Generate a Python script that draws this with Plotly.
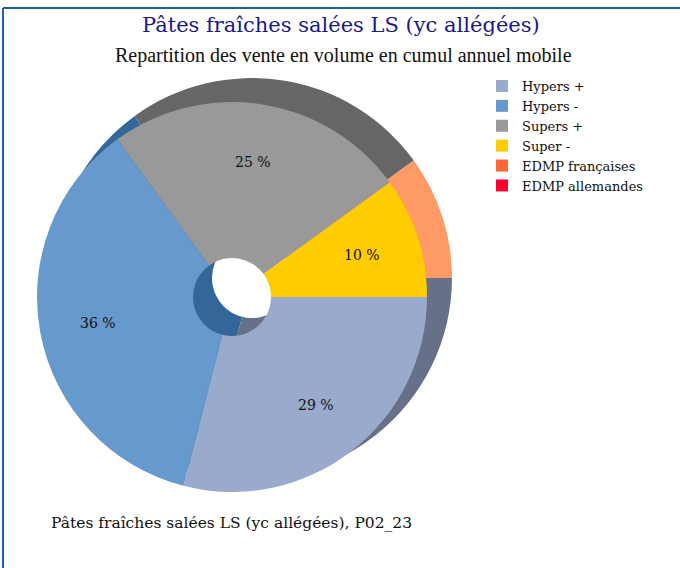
import math
import plotly.graph_objects as go

W, H = 680, 568

labels = ["Hypers +", "Hypers -", "Supers +", "Super -", "EDMP françaises", "EDMP allemandes"]
values = [29, 36, 25, 10, 0, 0]
colors = ["#99AACC", "#6699CC", "#999999", "#FFCC00", "#FF6633", "#FF0033"]
dark_colors = ["#667088", "#336699", "#666666", "#FF9966", "#CC5533", "#CC0022"]

title_text = "Pâtes fraîches salées LS (yc allégées)"
subtitle_text = "Repartition des vente en volume en cumul annuel mobile"
footer_text = "Pâtes fraîches salées LS (yc allégées), P02_23"

# front pie geometry (pixels)
FCX, FCY, FR = 232, 297, 195
BCX, BCY, BR = 252, 278, 200


def dom(cx, cy, r):
    return dict(x=[(cx - r) / W, (cx + r) / W], y=[1 - (cy + r) / H, 1 - (cy - r) / H])


fig = go.Figure()

# back (extrusion) layer
fig.add_trace(go.Pie(
    labels=labels, values=values, sort=False, direction="clockwise", rotation=90,
    hole=0.2, domain=dom(BCX, BCY, BR),
    marker=dict(colors=dark_colors, line=dict(width=0)),
    textinfo="none", hoverinfo="skip", showlegend=False,
))

# front layer
fig.add_trace(go.Pie(
    labels=labels, values=values, sort=False, direction="clockwise", rotation=90,
    hole=0.2, domain=dom(FCX, FCY, FR),
    marker=dict(colors=colors, line=dict(width=0)),
    textinfo="none",
    hoverinfo="label+percent",
))

# percentage labels placed along each slice's mid-angle
total = sum(values)
annotations = []
cum = 0.0
for v in values:
    if v > 0:
        mid = (cum + v / 2) / total * 2 * math.pi  # clockwise from 3 o'clock
        x = FCX + 0.70 * FR * math.cos(mid)
        y = FCY + 0.70 * FR * math.sin(mid)
        annotations.append(dict(
            text=f"{v / total * 100:.0f} %", x=x / W, y=1 - y / H, xref="paper", yref="paper",
            showarrow=False, xanchor="center", yanchor="middle",
            font=dict(family="DejaVu Serif", size=14, color="#111111")))
    cum += v

annotations += [
    dict(text=title_text, x=341 / W, y=1 - 25 / H, xref="paper", yref="paper",
         showarrow=False, xanchor="center", yanchor="middle",
         font=dict(family="DejaVu Serif", size=21, color="#1a1a8c")),
    dict(text=subtitle_text, x=343 / W, y=1 - 55 / H, xref="paper", yref="paper",
         showarrow=False, xanchor="center", yanchor="middle",
         font=dict(family="Liberation Serif", size=20, color="#111111")),
    dict(text=footer_text, x=49 / W, y=1 - 523 / H, xref="paper", yref="paper",
         showarrow=False, xanchor="left", yanchor="middle",
         font=dict(family="DejaVu Serif", size=15.5, color="#111111")),
]

fig.update_layout(
    width=W, height=H,
    margin=dict(l=0, r=0, t=0, b=0),
    paper_bgcolor="white",
    showlegend=True,
    legend=dict(
        x=482 / W, y=1 - 71 / H, xanchor="left", yanchor="top",
        font=dict(family="DejaVu Serif", size=13, color="#111111"),
        bgcolor="rgba(0,0,0,0)", traceorder="normal",
    ),
    shapes=[
        dict(type="line", xref="paper", yref="paper", x0=3 / W, x1=1, y0=1 - 8 / H, y1=1 - 8 / H,
             line=dict(color="#1f5faa", width=2)),
        dict(type="line", xref="paper", yref="paper", x0=3 / W, x1=3 / W, y0=0, y1=1 - 8 / H,
             line=dict(color="#1f5faa", width=2)),
    ],
    annotations=annotations,
)

fig.write_html("out.html", config={"displayModeBar": False},
               post_script="document.body.style.margin='0px';")
